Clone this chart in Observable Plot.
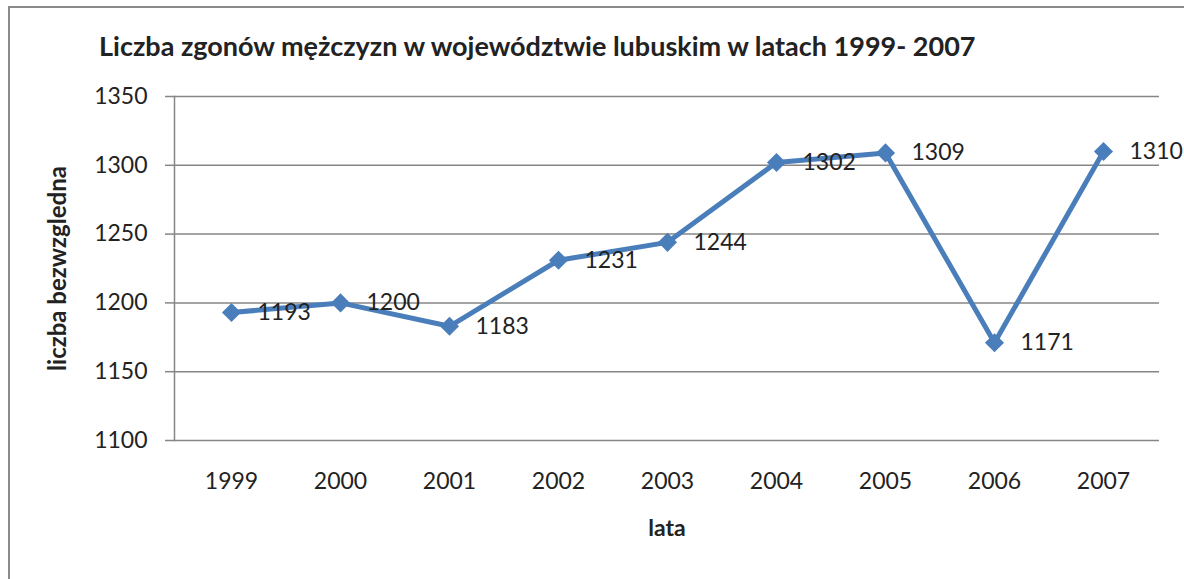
<!DOCTYPE html>
<html>
<head>
<meta charset="utf-8">
<script src="https://cdn.jsdelivr.net/npm/d3@7"></script>
<script src="https://cdn.jsdelivr.net/npm/@observablehq/plot@0.6"></script>
<style>
  html, body { margin: 0; padding: 0; background: #fff; }
  #wrap { position: relative; width: 1184px; height: 579px; overflow: hidden; font-family: Lato, "Open Sans", sans-serif; }
  #border { position: absolute; left: 8px; top: 6px; width: 1300px; height: 700px; border-left: 2px solid #8a8a8a; border-top: 2px solid #8a8a8a; }
  #title { position: absolute; left: 99px; top: 32px; font-weight: bold; font-size: 27px; color: #222; white-space: nowrap; line-height: 1; }
  #chart { position: absolute; left: 0; top: 0; }
</style>
</head>
<body>
<div id="wrap">
  <div id="border"></div>
  <div id="chart"></div>
  <div id="title"></div>
</div>
<script>
const titleText = "Liczba zgonów mężczyzn w województwie lubuskim w latach 1999- 2007";
const yLabel = "liczba bezwzgledna";
const xLabel = "lata";
const years = ["1999", "2000", "2001", "2002", "2003", "2004", "2005", "2006", "2007"];
const deaths = [1193, 1200, 1183, 1231, 1244, 1302, 1309, 1171, 1310];
const yTicks = [1100, 1150, 1200, 1250, 1300, 1350];

const data = years.map((y, i) => ({year: y, value: deaths[i]}));

document.getElementById("title").textContent = titleText;

const gray = "#868686";
const blue = "#4a7ebb";
const textColor = "#222";

const chart = Plot.plot({
  width: 1184,
  height: 579,
  marginLeft: 174,
  marginRight: 25,
  marginTop: 96,
  marginBottom: 139,
  style: {fontFamily: "Lato, 'Open Sans', sans-serif", background: "transparent", color: textColor},
  x: {type: "point", domain: years, padding: 0.5},
  y: {domain: [1100, 1350]},
  marks: [
    Plot.gridY(yTicks, {stroke: gray, strokeOpacity: 1, strokeWidth: 1.5}),
    Plot.frame({anchor: "left", stroke: gray, strokeWidth: 1.5}),
    Plot.axisY(yTicks, {tickSize: 9, tickPadding: 18, tickFormat: d => String(d), stroke: gray, strokeWidth: 1.5, fontSize: 23, fill: textColor, label: null}),
    Plot.axisX({tickSize: 0, tickPadding: 32, fontSize: 23, fill: textColor, label: null}),
    Plot.text([yLabel], {frameAnchor: "left", textAnchor: "middle", rotate: -90, dx: -116, fontWeight: "bold", fontSize: 24, fill: textColor}),
    Plot.text([xLabel], {frameAnchor: "bottom", textAnchor: "middle", dy: 95, fontWeight: "bold", fontSize: 23, fill: textColor}),
    Plot.line(data, {x: "year", y: "value", stroke: blue, strokeWidth: 5}),
    Plot.dot(data, {x: "year", y: "value", symbol: "diamond2", r: 8.6, fill: blue, stroke: "none"}),
    Plot.text(data, {x: "year", y: "value", text: d => String(d.value), textAnchor: "start", dx: 26, fontSize: 23, fill: textColor})
  ]
});
document.getElementById("chart").appendChild(chart);
</script>
</body>
</html>
